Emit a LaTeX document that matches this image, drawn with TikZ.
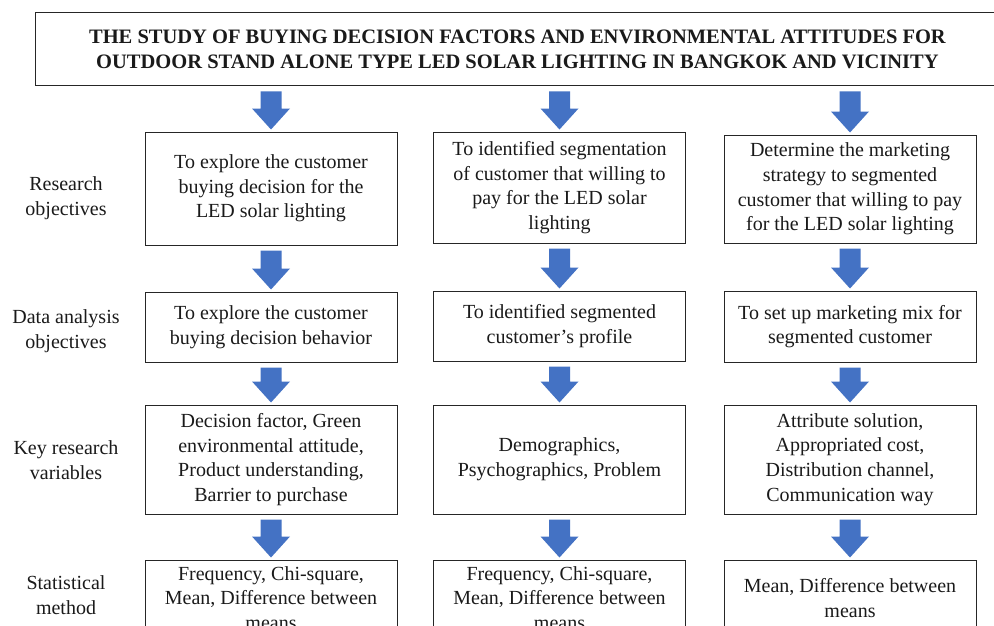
\documentclass[tikz,border=0pt]{standalone}
\usepackage{fontspec}
\setmainfont{LiberationSerif}[Extension=.ttf,UprightFont=*-Regular,BoldFont=*-Bold,ItalicFont=*-Italic,BoldItalicFont=*-BoldItalic]
\usetikzlibrary{calc}
\definecolor{flowBlue}{HTML}{4472C4}
\definecolor{flowLine}{HTML}{262626}
\definecolor{flowInk}{HTML}{1A1A1A}
\newcommand{\downblock}[2]{\fill[flowBlue] ($(#2.north |- #1.south)+(-10.5,5)$) -- ($(#2.north |- #1.south)+(10.5,5)$) -- ($(#2.north)+(10.5,-23)$) -- ($(#2.north)+(19,-23)$) -- ($(#2.north)+(0,-2)$) -- ($(#2.north)+(-19,-23)$) -- ($(#2.north)+(-10.5,-23)$) -- cycle;}

\begin{document}
\begin{tikzpicture}[x=1pt,y=-1pt,line join=miter]
\useasboundingbox[fill=white] (0,0) rectangle (994,626);
\tikzset{box/.style={draw=flowLine,line width=1pt,inner sep=0pt,align=center,text=flowInk,minimum width=252pt,font=\fontsize{20}{24.7}\selectfont},side/.style={align=center,text=flowInk,inner sep=0pt,font=\fontsize{20}{24.7}\selectfont}}
\node[box,minimum width=965pt,minimum height=73pt,font=\bfseries\fontsize{20.5}{25}\selectfont] (title) at (517.5,49.5) {THE STUDY OF BUYING DECISION FACTORS AND ENVIRONMENTAL ATTITUDES FOR\\OUTDOOR STAND ALONE TYPE LED SOLAR LIGHTING IN BANGKOK AND VICINITY};
% research objectives
\node[side] (lblobj) at (66,198) {Research\\objectives};
\node[box,minimum height=113pt] (obj1) at (271,188.5) {To explore the customer\\buying decision for the\\LED solar lighting};
\node[box,minimum height=111pt] (obj2) at (559.5,187.5) {To identified segmentation\\of customer that willing to\\pay for the LED solar\\lighting};
\node[box,minimum height=108pt] (obj3) at (850,189) {Determine the marketing\\strategy to segmented\\customer that willing to pay\\for the LED solar lighting};
% data analysis objectives
\node[side] (lblana) at (66,331.5) {Data analysis\\objectives};
\node[box,minimum height=70pt] (ana1) at (271,327) {To explore the customer\\buying decision behavior};
\node[box,minimum height=70pt] (ana2) at (559.5,326) {To identified segmented\\customer’s profile};
\node[box,minimum height=71pt] (ana3) at (850,326.5) {To set up marketing mix for\\segmented customer};
% key research variables
\node[side] (lblvar) at (66,460.5) {Key research\\variables};
\node[box,minimum height=109pt] (var1) at (271,459.5) {Decision factor, Green\\environmental attitude,\\Product understanding,\\Barrier to purchase};
\node[box,minimum height=109pt] (var2) at (559.5,459.5) {Demographics,\\Psychographics, Problem};
\node[box,minimum height=109pt] (var3) at (850,459.5) {Attribute solution,\\Appropriated cost,\\Distribution channel,\\Communication way};
% statistical method
\node[side] (lblstat) at (66,595.5) {Statistical\\method};
\node[box,minimum height=76pt] (stat1) at (271,598) {Frequency, Chi-square,\\Mean, Difference between\\means};
\node[box,minimum height=76pt] (stat2) at (559.5,598) {Frequency, Chi-square,\\Mean, Difference between\\means};
\node[box,minimum height=76pt] (stat3) at (850,598) {Mean, Difference between\\means};
% block arrows
\foreach \c in {1,2,3}{\downblock{title}{obj\c} \downblock{obj\c}{ana\c} \downblock{ana\c}{var\c} \downblock{var\c}{stat\c}}
\end{tikzpicture}
\end{document}
